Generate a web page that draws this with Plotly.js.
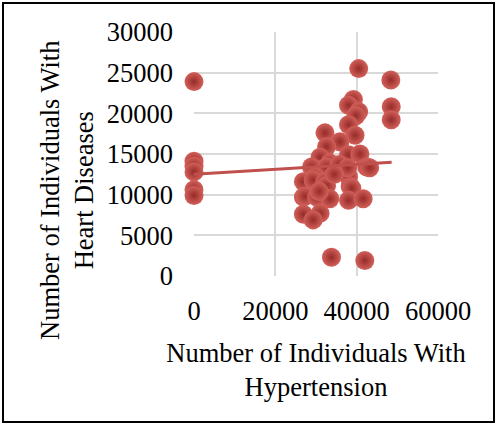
<!DOCTYPE html>
<html><head><meta charset="utf-8">
<script src="https://cdn.plot.ly/plotly-3.0.1.min.js"></script>
<style>html,body{margin:0;padding:0;background:#fff}#chart{width:498px;height:425px}</style>
</head><body><div id="chart"></div>
<script>
const hypertension = [0,0,0,0,0,0,
  40500,48400,48500,48500,
  33800,42000,
  39200,38000,40500,39800,38000,39600,32200,35900,32600,38000,40800,42500,43200,31000,33400,28900,32600,29700,27700,26900,29300,32200,32600,38000,38400,38800,26900,27300,30200,33400,38000,41600,26900,31000,29300,35700,37800,34500,30800];
const heartDiseases = [23900,14100,13500,12800,10600,9900,
  25500,24100,20800,19200,
  2300,1900,
  21700,21000,20200,19700,18600,17300,17600,16500,15900,14900,15000,13400,13300,14600,13900,13400,13400,12200,11600,11600,11800,11600,11100,12200,11000,10800,9700,9800,9700,9500,9300,9500,7600,7700,6900,13700,13300,12500,10400];
const trendX = [0, 48600];
const trendY = [12500, 14000];
const xTicks = [0, 20000, 40000, 60000];
const yTicks = [0, 5000, 10000, 15000, 20000, 25000, 30000];

const font = 'Liberation Serif, Times New Roman, serif';
const fs = 26.5;
const data = [
  {x: hypertension, y: heartDiseases, type: 'scatter', mode: 'markers', cliponaxis: false,
   marker: {size: 19, color: '#d2605a', gradient: {type: 'radial', color: '#962b28'},
            line: {width: 0}}},
  {x: trendX, y: trendY, type: 'scatter', mode: 'lines', cliponaxis: false,
   line: {color: '#c0504d', width: 3}}
];
const layout = {
  width: 498, height: 425, showlegend: false,
  paper_bgcolor: '#fff', plot_bgcolor: '#fff',
  margin: {l: 194, r: 60, t: 32, b: 149},
  font: {family: font, size: fs, color: '#000'},
  xaxis: {range: [0, 60000], tickvals: xTicks, ticktext: xTicks.map(String),
          showgrid: true, gridcolor: '#d9d9d9', gridwidth: 2, zeroline: false,
          showline: false, ticks: '', ticklabelstandoff: 16,
          title: {text: 'Number of Individuals With<br>Hypertension', standoff: 18,
                  font: {family: font, size: fs, color: '#000'}}},
  yaxis: {range: [0, 30000], tickvals: yTicks, ticktext: yTicks.map(String),
          showgrid: true, gridcolor: '#d9d9d9', gridwidth: 2, zeroline: false,
          showline: false, ticks: '', ticklabelstandoff: 20},
  annotations: [{xref: 'paper', yref: 'paper', x: (67 - 194) / 244, y: (276 - 191) / 244,
                 text: 'Number of Individuals With<br>Heart Diseases', showarrow: false,
                 textangle: -90, xanchor: 'center', yanchor: 'middle',
                 font: {family: font, size: fs, color: '#000'}}],
  shapes: [{type: 'rect', xref: 'paper', yref: 'paper',
            x0: (3 - 194) / 244, x1: (494 - 194) / 244, y0: (276 - 422) / 244, y1: (276 - 3) / 244,
            line: {color: '#000', width: 2}}]
};
Plotly.newPlot('chart', data, layout, {displayModeBar: false, staticPlot: true});
</script></body></html>
